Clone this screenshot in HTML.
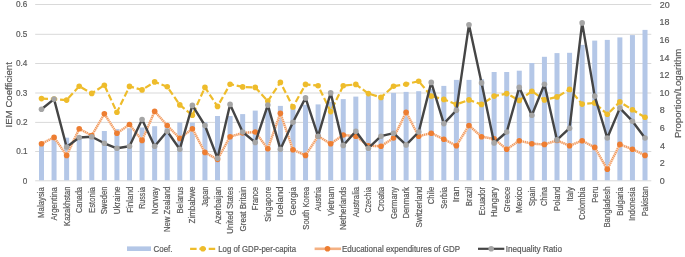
<!DOCTYPE html><html><head><meta charset="utf-8"><style>html,body{margin:0;padding:0;background:#fff;width:685px;height:257px;overflow:hidden}svg{display:block}text{font-family:"Liberation Sans",sans-serif;fill:#595959;stroke:#595959;stroke-width:0.2px}</style></head><body>
<svg width="685" height="257" viewBox="0 0 685 257">
<rect width="685" height="257" fill="#fff"/>
<line x1="35.2" x2="651.3" y1="4.50" y2="4.50" stroke="#D9D9D9" stroke-width="1"/>
<line x1="35.2" x2="651.3" y1="34.30" y2="34.30" stroke="#D9D9D9" stroke-width="1"/>
<line x1="35.2" x2="651.3" y1="63.50" y2="63.50" stroke="#D9D9D9" stroke-width="1"/>
<line x1="35.2" x2="651.3" y1="93.00" y2="93.00" stroke="#D9D9D9" stroke-width="1"/>
<line x1="35.2" x2="651.3" y1="122.40" y2="122.40" stroke="#D9D9D9" stroke-width="1"/>
<line x1="35.2" x2="651.3" y1="151.50" y2="151.50" stroke="#D9D9D9" stroke-width="1"/>
<line x1="35.2" x2="651.3" y1="180.80" y2="180.80" stroke="#D9D9D9" stroke-width="1"/>
<rect x="38.99" y="143.70" width="5.0" height="36.60" fill="#B4C7E7"/>
<rect x="51.56" y="138.50" width="5.0" height="41.80" fill="#B4C7E7"/>
<rect x="64.13" y="137.70" width="5.0" height="42.60" fill="#B4C7E7"/>
<rect x="76.71" y="136.80" width="5.0" height="43.50" fill="#B4C7E7"/>
<rect x="89.28" y="136.00" width="5.0" height="44.30" fill="#B4C7E7"/>
<rect x="101.85" y="131.00" width="5.0" height="49.30" fill="#B4C7E7"/>
<rect x="114.43" y="129.10" width="5.0" height="51.20" fill="#B4C7E7"/>
<rect x="127.00" y="128.20" width="5.0" height="52.10" fill="#B4C7E7"/>
<rect x="139.57" y="127.50" width="5.0" height="52.80" fill="#B4C7E7"/>
<rect x="152.15" y="126.20" width="5.0" height="54.10" fill="#B4C7E7"/>
<rect x="164.72" y="125.50" width="5.0" height="54.80" fill="#B4C7E7"/>
<rect x="177.29" y="122.50" width="5.0" height="57.80" fill="#B4C7E7"/>
<rect x="189.87" y="122.50" width="5.0" height="57.80" fill="#B4C7E7"/>
<rect x="202.44" y="122.30" width="5.0" height="58.00" fill="#B4C7E7"/>
<rect x="215.02" y="116.00" width="5.0" height="64.30" fill="#B4C7E7"/>
<rect x="227.59" y="116.00" width="5.0" height="64.30" fill="#B4C7E7"/>
<rect x="240.16" y="114.10" width="5.0" height="66.20" fill="#B4C7E7"/>
<rect x="252.74" y="110.60" width="5.0" height="69.70" fill="#B4C7E7"/>
<rect x="265.31" y="108.00" width="5.0" height="72.30" fill="#B4C7E7"/>
<rect x="277.88" y="105.90" width="5.0" height="74.40" fill="#B4C7E7"/>
<rect x="290.46" y="105.50" width="5.0" height="74.80" fill="#B4C7E7"/>
<rect x="303.03" y="104.80" width="5.0" height="75.50" fill="#B4C7E7"/>
<rect x="315.60" y="104.40" width="5.0" height="75.90" fill="#B4C7E7"/>
<rect x="328.18" y="101.90" width="5.0" height="78.40" fill="#B4C7E7"/>
<rect x="340.75" y="99.10" width="5.0" height="81.20" fill="#B4C7E7"/>
<rect x="353.32" y="96.60" width="5.0" height="83.70" fill="#B4C7E7"/>
<rect x="365.90" y="95.50" width="5.0" height="84.80" fill="#B4C7E7"/>
<rect x="378.47" y="95.00" width="5.0" height="85.30" fill="#B4C7E7"/>
<rect x="391.04" y="92.90" width="5.0" height="87.40" fill="#B4C7E7"/>
<rect x="403.62" y="91.90" width="5.0" height="88.40" fill="#B4C7E7"/>
<rect x="416.19" y="91.20" width="5.0" height="89.10" fill="#B4C7E7"/>
<rect x="428.76" y="89.00" width="5.0" height="91.30" fill="#B4C7E7"/>
<rect x="441.34" y="85.90" width="5.0" height="94.40" fill="#B4C7E7"/>
<rect x="453.91" y="79.90" width="5.0" height="100.40" fill="#B4C7E7"/>
<rect x="466.48" y="79.90" width="5.0" height="100.40" fill="#B4C7E7"/>
<rect x="479.06" y="79.20" width="5.0" height="101.10" fill="#B4C7E7"/>
<rect x="491.63" y="72.00" width="5.0" height="108.30" fill="#B4C7E7"/>
<rect x="504.21" y="72.00" width="5.0" height="108.30" fill="#B4C7E7"/>
<rect x="516.78" y="70.70" width="5.0" height="109.60" fill="#B4C7E7"/>
<rect x="529.35" y="63.00" width="5.0" height="117.30" fill="#B4C7E7"/>
<rect x="541.93" y="56.80" width="5.0" height="123.50" fill="#B4C7E7"/>
<rect x="554.50" y="53.10" width="5.0" height="127.20" fill="#B4C7E7"/>
<rect x="567.07" y="52.80" width="5.0" height="127.50" fill="#B4C7E7"/>
<rect x="579.65" y="44.90" width="5.0" height="135.40" fill="#B4C7E7"/>
<rect x="592.22" y="40.60" width="5.0" height="139.70" fill="#B4C7E7"/>
<rect x="604.79" y="39.90" width="5.0" height="140.40" fill="#B4C7E7"/>
<rect x="617.37" y="37.40" width="5.0" height="142.90" fill="#B4C7E7"/>
<rect x="629.94" y="35.10" width="5.0" height="145.20" fill="#B4C7E7"/>
<rect x="642.51" y="29.90" width="5.0" height="150.40" fill="#B4C7E7"/>
<polyline points="41.49,98.60 54.06,99.10 66.63,100.10 79.21,86.20 91.78,93.40 104.35,85.20 116.93,112.30 129.50,86.40 142.07,89.90 154.65,81.90 167.22,86.70 179.79,104.90 192.37,115.30 204.94,87.40 217.52,106.40 230.09,84.20 242.66,86.90 255.24,87.40 267.81,101.10 280.38,82.40 292.96,106.90 305.53,84.40 318.10,85.70 330.68,111.60 343.25,85.70 355.82,84.40 368.40,93.60 380.97,97.40 393.54,86.20 406.12,84.20 418.69,81.20 431.26,96.10 443.84,99.40 456.41,104.40 468.98,99.90 481.56,104.40 494.13,96.10 506.71,93.60 519.28,100.40 531.85,91.20 544.43,99.90 557.00,96.90 569.57,89.40 582.15,104.10 594.72,102.90 607.29,114.30 619.87,101.90 632.44,109.80 645.01,117.30" fill="none" stroke="#EEBC2B" stroke-width="2.2" stroke-dasharray="6.5 2.8" stroke-linejoin="round"/>
<circle cx="41.49" cy="98.60" r="2.8" fill="#EEBC2B"/>
<circle cx="54.06" cy="99.10" r="2.8" fill="#EEBC2B"/>
<circle cx="66.63" cy="100.10" r="2.8" fill="#EEBC2B"/>
<circle cx="79.21" cy="86.20" r="2.8" fill="#EEBC2B"/>
<circle cx="91.78" cy="93.40" r="2.8" fill="#EEBC2B"/>
<circle cx="104.35" cy="85.20" r="2.8" fill="#EEBC2B"/>
<circle cx="116.93" cy="112.30" r="2.8" fill="#EEBC2B"/>
<circle cx="129.50" cy="86.40" r="2.8" fill="#EEBC2B"/>
<circle cx="142.07" cy="89.90" r="2.8" fill="#EEBC2B"/>
<circle cx="154.65" cy="81.90" r="2.8" fill="#EEBC2B"/>
<circle cx="167.22" cy="86.70" r="2.8" fill="#EEBC2B"/>
<circle cx="179.79" cy="104.90" r="2.8" fill="#EEBC2B"/>
<circle cx="192.37" cy="115.30" r="2.8" fill="#EEBC2B"/>
<circle cx="204.94" cy="87.40" r="2.8" fill="#EEBC2B"/>
<circle cx="217.52" cy="106.40" r="2.8" fill="#EEBC2B"/>
<circle cx="230.09" cy="84.20" r="2.8" fill="#EEBC2B"/>
<circle cx="242.66" cy="86.90" r="2.8" fill="#EEBC2B"/>
<circle cx="255.24" cy="87.40" r="2.8" fill="#EEBC2B"/>
<circle cx="267.81" cy="101.10" r="2.8" fill="#EEBC2B"/>
<circle cx="280.38" cy="82.40" r="2.8" fill="#EEBC2B"/>
<circle cx="292.96" cy="106.90" r="2.8" fill="#EEBC2B"/>
<circle cx="305.53" cy="84.40" r="2.8" fill="#EEBC2B"/>
<circle cx="318.10" cy="85.70" r="2.8" fill="#EEBC2B"/>
<circle cx="330.68" cy="111.60" r="2.8" fill="#EEBC2B"/>
<circle cx="343.25" cy="85.70" r="2.8" fill="#EEBC2B"/>
<circle cx="355.82" cy="84.40" r="2.8" fill="#EEBC2B"/>
<circle cx="368.40" cy="93.60" r="2.8" fill="#EEBC2B"/>
<circle cx="380.97" cy="97.40" r="2.8" fill="#EEBC2B"/>
<circle cx="393.54" cy="86.20" r="2.8" fill="#EEBC2B"/>
<circle cx="406.12" cy="84.20" r="2.8" fill="#EEBC2B"/>
<circle cx="418.69" cy="81.20" r="2.8" fill="#EEBC2B"/>
<circle cx="431.26" cy="96.10" r="2.8" fill="#EEBC2B"/>
<circle cx="443.84" cy="99.40" r="2.8" fill="#EEBC2B"/>
<circle cx="456.41" cy="104.40" r="2.8" fill="#EEBC2B"/>
<circle cx="468.98" cy="99.90" r="2.8" fill="#EEBC2B"/>
<circle cx="481.56" cy="104.40" r="2.8" fill="#EEBC2B"/>
<circle cx="494.13" cy="96.10" r="2.8" fill="#EEBC2B"/>
<circle cx="506.71" cy="93.60" r="2.8" fill="#EEBC2B"/>
<circle cx="519.28" cy="100.40" r="2.8" fill="#EEBC2B"/>
<circle cx="531.85" cy="91.20" r="2.8" fill="#EEBC2B"/>
<circle cx="544.43" cy="99.90" r="2.8" fill="#EEBC2B"/>
<circle cx="557.00" cy="96.90" r="2.8" fill="#EEBC2B"/>
<circle cx="569.57" cy="89.40" r="2.8" fill="#EEBC2B"/>
<circle cx="582.15" cy="104.10" r="2.8" fill="#EEBC2B"/>
<circle cx="594.72" cy="102.90" r="2.8" fill="#EEBC2B"/>
<circle cx="607.29" cy="114.30" r="2.8" fill="#EEBC2B"/>
<circle cx="619.87" cy="101.90" r="2.8" fill="#EEBC2B"/>
<circle cx="632.44" cy="109.80" r="2.8" fill="#EEBC2B"/>
<circle cx="645.01" cy="117.30" r="2.8" fill="#EEBC2B"/>
<polyline points="41.49,143.70 54.06,137.40 66.63,155.40 79.21,128.80 91.78,135.50 104.35,113.80 116.93,133.30 129.50,124.50 142.07,140.40 154.65,111.30 167.22,125.50 179.79,138.40 192.37,128.70 204.94,152.40 217.52,159.50 230.09,136.70 242.66,133.00 255.24,132.00 267.81,148.70 280.38,113.30 292.96,149.70 305.53,155.40 318.10,136.20 330.68,143.70 343.25,135.00 355.82,136.20 368.40,145.70 380.97,146.20 393.54,138.00 406.12,112.30 418.69,136.20 431.26,133.20 443.84,139.20 456.41,145.70 468.98,125.50 481.56,136.70 494.13,138.90 506.71,149.20 519.28,140.70 531.85,143.70 544.43,144.40 557.00,140.50 569.57,145.70 582.15,140.70 594.72,147.40 607.29,169.30 619.87,144.40 632.44,149.20 645.01,155.40" fill="none" stroke="#FBDCC6" stroke-width="2.4" stroke-linejoin="round"/>
<polyline points="41.49,143.70 54.06,137.40 66.63,155.40 79.21,128.80 91.78,135.50 104.35,113.80 116.93,133.30 129.50,124.50 142.07,140.40 154.65,111.30 167.22,125.50 179.79,138.40 192.37,128.70 204.94,152.40 217.52,159.50 230.09,136.70 242.66,133.00 255.24,132.00 267.81,148.70 280.38,113.30 292.96,149.70 305.53,155.40 318.10,136.20 330.68,143.70 343.25,135.00 355.82,136.20 368.40,145.70 380.97,146.20 393.54,138.00 406.12,112.30 418.69,136.20 431.26,133.20 443.84,139.20 456.41,145.70 468.98,125.50 481.56,136.70 494.13,138.90 506.71,149.20 519.28,140.70 531.85,143.70 544.43,144.40 557.00,140.50 569.57,145.70 582.15,140.70 594.72,147.40 607.29,169.30 619.87,144.40 632.44,149.20 645.01,155.40" fill="none" stroke="#ED7D31" stroke-width="2.4" stroke-dasharray="1 1" stroke-linejoin="round" opacity="0.75"/>
<circle cx="41.49" cy="143.70" r="2.8" fill="#ED7D31"/>
<circle cx="54.06" cy="137.40" r="2.8" fill="#ED7D31"/>
<circle cx="66.63" cy="155.40" r="2.8" fill="#ED7D31"/>
<circle cx="79.21" cy="128.80" r="2.8" fill="#ED7D31"/>
<circle cx="91.78" cy="135.50" r="2.8" fill="#ED7D31"/>
<circle cx="104.35" cy="113.80" r="2.8" fill="#ED7D31"/>
<circle cx="116.93" cy="133.30" r="2.8" fill="#ED7D31"/>
<circle cx="129.50" cy="124.50" r="2.8" fill="#ED7D31"/>
<circle cx="142.07" cy="140.40" r="2.8" fill="#ED7D31"/>
<circle cx="154.65" cy="111.30" r="2.8" fill="#ED7D31"/>
<circle cx="167.22" cy="125.50" r="2.8" fill="#ED7D31"/>
<circle cx="179.79" cy="138.40" r="2.8" fill="#ED7D31"/>
<circle cx="192.37" cy="128.70" r="2.8" fill="#ED7D31"/>
<circle cx="204.94" cy="152.40" r="2.8" fill="#ED7D31"/>
<circle cx="217.52" cy="159.50" r="2.8" fill="#ED7D31"/>
<circle cx="230.09" cy="136.70" r="2.8" fill="#ED7D31"/>
<circle cx="242.66" cy="133.00" r="2.8" fill="#ED7D31"/>
<circle cx="255.24" cy="132.00" r="2.8" fill="#ED7D31"/>
<circle cx="267.81" cy="148.70" r="2.8" fill="#ED7D31"/>
<circle cx="280.38" cy="113.30" r="2.8" fill="#ED7D31"/>
<circle cx="292.96" cy="149.70" r="2.8" fill="#ED7D31"/>
<circle cx="305.53" cy="155.40" r="2.8" fill="#ED7D31"/>
<circle cx="318.10" cy="136.20" r="2.8" fill="#ED7D31"/>
<circle cx="330.68" cy="143.70" r="2.8" fill="#ED7D31"/>
<circle cx="343.25" cy="135.00" r="2.8" fill="#ED7D31"/>
<circle cx="355.82" cy="136.20" r="2.8" fill="#ED7D31"/>
<circle cx="368.40" cy="145.70" r="2.8" fill="#ED7D31"/>
<circle cx="380.97" cy="146.20" r="2.8" fill="#ED7D31"/>
<circle cx="393.54" cy="138.00" r="2.8" fill="#ED7D31"/>
<circle cx="406.12" cy="112.30" r="2.8" fill="#ED7D31"/>
<circle cx="418.69" cy="136.20" r="2.8" fill="#ED7D31"/>
<circle cx="431.26" cy="133.20" r="2.8" fill="#ED7D31"/>
<circle cx="443.84" cy="139.20" r="2.8" fill="#ED7D31"/>
<circle cx="456.41" cy="145.70" r="2.8" fill="#ED7D31"/>
<circle cx="468.98" cy="125.50" r="2.8" fill="#ED7D31"/>
<circle cx="481.56" cy="136.70" r="2.8" fill="#ED7D31"/>
<circle cx="494.13" cy="138.90" r="2.8" fill="#ED7D31"/>
<circle cx="506.71" cy="149.20" r="2.8" fill="#ED7D31"/>
<circle cx="519.28" cy="140.70" r="2.8" fill="#ED7D31"/>
<circle cx="531.85" cy="143.70" r="2.8" fill="#ED7D31"/>
<circle cx="544.43" cy="144.40" r="2.8" fill="#ED7D31"/>
<circle cx="557.00" cy="140.50" r="2.8" fill="#ED7D31"/>
<circle cx="569.57" cy="145.70" r="2.8" fill="#ED7D31"/>
<circle cx="582.15" cy="140.70" r="2.8" fill="#ED7D31"/>
<circle cx="594.72" cy="147.40" r="2.8" fill="#ED7D31"/>
<circle cx="607.29" cy="169.30" r="2.8" fill="#ED7D31"/>
<circle cx="619.87" cy="144.40" r="2.8" fill="#ED7D31"/>
<circle cx="632.44" cy="149.20" r="2.8" fill="#ED7D31"/>
<circle cx="645.01" cy="155.40" r="2.8" fill="#ED7D31"/>
<polyline points="41.49,109.30 54.06,99.10 66.63,147.00 79.21,137.50 91.78,136.80 104.35,143.30 116.93,148.30 129.50,146.20 142.07,119.50 154.65,146.20 167.22,131.20 179.79,149.20 192.37,105.40 204.94,125.50 217.52,158.30 230.09,104.40 242.66,132.00 255.24,142.40 267.81,105.10 280.38,149.20 292.96,122.20 305.53,97.90 318.10,136.20 330.68,92.90 343.25,145.40 355.82,131.20 368.40,148.20 380.97,136.20 393.54,133.20 406.12,144.90 418.69,132.00 431.26,82.40 443.84,123.60 456.41,110.30 468.98,24.70 481.56,82.90 494.13,142.90 506.71,132.00 519.28,87.40 531.85,115.30 544.43,84.20 557.00,139.90 569.57,128.20 582.15,22.90 594.72,96.10 607.29,138.00 619.87,108.10 632.44,121.20 645.01,138.00" fill="none" stroke="#454545" stroke-width="2.4" stroke-linejoin="round"/>
<circle cx="41.49" cy="109.30" r="2.8" fill="#A5A5A5"/>
<circle cx="54.06" cy="99.10" r="2.8" fill="#A5A5A5"/>
<circle cx="66.63" cy="147.00" r="2.8" fill="#A5A5A5"/>
<circle cx="79.21" cy="137.50" r="2.8" fill="#A5A5A5"/>
<circle cx="91.78" cy="136.80" r="2.8" fill="#A5A5A5"/>
<circle cx="104.35" cy="143.30" r="2.8" fill="#A5A5A5"/>
<circle cx="116.93" cy="148.30" r="2.8" fill="#A5A5A5"/>
<circle cx="129.50" cy="146.20" r="2.8" fill="#A5A5A5"/>
<circle cx="142.07" cy="119.50" r="2.8" fill="#A5A5A5"/>
<circle cx="154.65" cy="146.20" r="2.8" fill="#A5A5A5"/>
<circle cx="167.22" cy="131.20" r="2.8" fill="#A5A5A5"/>
<circle cx="179.79" cy="149.20" r="2.8" fill="#A5A5A5"/>
<circle cx="192.37" cy="105.40" r="2.8" fill="#A5A5A5"/>
<circle cx="204.94" cy="125.50" r="2.8" fill="#A5A5A5"/>
<circle cx="217.52" cy="158.30" r="2.8" fill="#A5A5A5"/>
<circle cx="230.09" cy="104.40" r="2.8" fill="#A5A5A5"/>
<circle cx="242.66" cy="132.00" r="2.8" fill="#A5A5A5"/>
<circle cx="255.24" cy="142.40" r="2.8" fill="#A5A5A5"/>
<circle cx="267.81" cy="105.10" r="2.8" fill="#A5A5A5"/>
<circle cx="280.38" cy="149.20" r="2.8" fill="#A5A5A5"/>
<circle cx="292.96" cy="122.20" r="2.8" fill="#A5A5A5"/>
<circle cx="305.53" cy="97.90" r="2.8" fill="#A5A5A5"/>
<circle cx="318.10" cy="136.20" r="2.8" fill="#A5A5A5"/>
<circle cx="330.68" cy="92.90" r="2.8" fill="#A5A5A5"/>
<circle cx="343.25" cy="145.40" r="2.8" fill="#A5A5A5"/>
<circle cx="355.82" cy="131.20" r="2.8" fill="#A5A5A5"/>
<circle cx="368.40" cy="148.20" r="2.8" fill="#A5A5A5"/>
<circle cx="380.97" cy="136.20" r="2.8" fill="#A5A5A5"/>
<circle cx="393.54" cy="133.20" r="2.8" fill="#A5A5A5"/>
<circle cx="406.12" cy="144.90" r="2.8" fill="#A5A5A5"/>
<circle cx="418.69" cy="132.00" r="2.8" fill="#A5A5A5"/>
<circle cx="431.26" cy="82.40" r="2.8" fill="#A5A5A5"/>
<circle cx="443.84" cy="123.60" r="2.8" fill="#A5A5A5"/>
<circle cx="456.41" cy="110.30" r="2.8" fill="#A5A5A5"/>
<circle cx="468.98" cy="24.70" r="2.8" fill="#A5A5A5"/>
<circle cx="481.56" cy="82.90" r="2.8" fill="#A5A5A5"/>
<circle cx="494.13" cy="142.90" r="2.8" fill="#A5A5A5"/>
<circle cx="506.71" cy="132.00" r="2.8" fill="#A5A5A5"/>
<circle cx="519.28" cy="87.40" r="2.8" fill="#A5A5A5"/>
<circle cx="531.85" cy="115.30" r="2.8" fill="#A5A5A5"/>
<circle cx="544.43" cy="84.20" r="2.8" fill="#A5A5A5"/>
<circle cx="557.00" cy="139.90" r="2.8" fill="#A5A5A5"/>
<circle cx="569.57" cy="128.20" r="2.8" fill="#A5A5A5"/>
<circle cx="582.15" cy="22.90" r="2.8" fill="#A5A5A5"/>
<circle cx="594.72" cy="96.10" r="2.8" fill="#A5A5A5"/>
<circle cx="607.29" cy="138.00" r="2.8" fill="#A5A5A5"/>
<circle cx="619.87" cy="108.10" r="2.8" fill="#A5A5A5"/>
<circle cx="632.44" cy="121.20" r="2.8" fill="#A5A5A5"/>
<circle cx="645.01" cy="138.00" r="2.8" fill="#A5A5A5"/>
<g style="opacity:0.999">
<text transform="translate(16.05,7.30) scale(0.9091,1)" font-size="9.0">0.6</text>
<text transform="translate(16.05,37.10) scale(0.9091,1)" font-size="9.0">0.5</text>
<text transform="translate(15.97,66.30) scale(0.9091,1)" font-size="9.0">0.4</text>
<text transform="translate(16.05,95.80) scale(0.9091,1)" font-size="9.0">0.3</text>
<text transform="translate(16.14,125.20) scale(0.9091,1)" font-size="9.0">0.2</text>
<text transform="translate(16.14,154.30) scale(0.9091,1)" font-size="9.0">0.1</text>
<text transform="translate(22.85,183.60) scale(0.9091,1)" font-size="9.0">0</text>
<text transform="translate(659.75,7.70) scale(0.9913,1)" font-size="9.0">20</text>
<text transform="translate(659.49,25.30) scale(0.9913,1)" font-size="9.0">18</text>
<text transform="translate(659.49,42.90) scale(0.9913,1)" font-size="9.0">16</text>
<text transform="translate(659.49,60.50) scale(0.9913,1)" font-size="9.0">14</text>
<text transform="translate(659.49,78.10) scale(0.9913,1)" font-size="9.0">12</text>
<text transform="translate(659.49,95.70) scale(0.9913,1)" font-size="9.0">10</text>
<text transform="translate(659.84,113.30) scale(0.9913,1)" font-size="9.0">8</text>
<text transform="translate(659.75,130.90) scale(0.9913,1)" font-size="9.0">6</text>
<text transform="translate(660.02,148.50) scale(0.9913,1)" font-size="9.0">4</text>
<text transform="translate(659.75,166.10) scale(0.9913,1)" font-size="9.0">2</text>
<text transform="translate(659.84,183.70) scale(0.9913,1)" font-size="9.0">0</text>
<text transform="translate(12.00,127.47) rotate(-90) scale(1.0761,1)" font-size="9.0">IEM Coefficient</text>
<text transform="translate(681.20,138.07) rotate(-90) scale(1.0640,1)" font-size="9.0">Proportion/Logarithm</text>
<text transform="translate(44.49,217.93) rotate(-90) scale(0.8699,1)" font-size="9.0">Malaysia</text>
<text transform="translate(57.06,220.60) rotate(-90) scale(0.8723,1)" font-size="9.0">Argentina</text>
<text transform="translate(69.63,225.90) rotate(-90) scale(0.8377,1)" font-size="9.0">Kazakhstan</text>
<text transform="translate(82.21,213.07) rotate(-90) scale(0.8277,1)" font-size="9.0">Canada</text>
<text transform="translate(94.78,212.92) rotate(-90) scale(0.8623,1)" font-size="9.0">Estonia</text>
<text transform="translate(107.35,214.28) rotate(-90) scale(0.8540,1)" font-size="9.0">Sweden</text>
<text transform="translate(119.93,214.14) rotate(-90) scale(0.8869,1)" font-size="9.0">Ukraine</text>
<text transform="translate(132.50,212.84) rotate(-90) scale(0.8946,1)" font-size="9.0">Finland</text>
<text transform="translate(145.07,208.87) rotate(-90) scale(0.7942,1)" font-size="9.0">Russia</text>
<text transform="translate(157.65,214.14) rotate(-90) scale(0.8896,1)" font-size="9.0">Norway</text>
<text transform="translate(170.22,232.12) rotate(-90) scale(0.8599,1)" font-size="9.0">New Zealand</text>
<text transform="translate(182.79,213.43) rotate(-90) scale(0.8767,1)" font-size="9.0">Belarus</text>
<text transform="translate(195.37,223.44) rotate(-90) scale(0.8860,1)" font-size="9.0">Zimbabwe</text>
<text transform="translate(207.94,206.85) rotate(-90) scale(0.8291,1)" font-size="9.0">Japan</text>
<text transform="translate(220.52,224.30) rotate(-90) scale(0.8894,1)" font-size="9.0">Azerbaijan</text>
<text transform="translate(233.09,233.73) rotate(-90) scale(0.8696,1)" font-size="9.0">United States</text>
<text transform="translate(245.66,231.50) rotate(-90) scale(0.8909,1)" font-size="9.0">Great Britain</text>
<text transform="translate(258.24,210.20) rotate(-90) scale(0.8398,1)" font-size="9.0">France</text>
<text transform="translate(270.81,221.79) rotate(-90) scale(0.8570,1)" font-size="9.0">Singapore</text>
<text transform="translate(283.38,217.26) rotate(-90) scale(1.0641,1)" font-size="9.0">Iceland</text>
<text transform="translate(295.96,215.50) rotate(-90) scale(0.8895,1)" font-size="9.0">Georgia</text>
<text transform="translate(308.53,229.68) rotate(-90) scale(0.8530,1)" font-size="9.0">South Korea</text>
<text transform="translate(321.10,211.20) rotate(-90) scale(0.8646,1)" font-size="9.0">Austria</text>
<text transform="translate(333.68,215.78) rotate(-90) scale(0.8932,1)" font-size="9.0">Vietnam</text>
<text transform="translate(346.25,229.94) rotate(-90) scale(0.8902,1)" font-size="9.0">Netherlands</text>
<text transform="translate(358.82,217.30) rotate(-90) scale(0.8655,1)" font-size="9.0">Australia</text>
<text transform="translate(371.40,212.66) rotate(-90) scale(0.7896,1)" font-size="9.0">Czechia</text>
<text transform="translate(383.97,211.58) rotate(-90) scale(0.8482,1)" font-size="9.0">Croatia</text>
<text transform="translate(396.54,219.09) rotate(-90) scale(0.8675,1)" font-size="9.0">Germany</text>
<text transform="translate(409.12,218.62) rotate(-90) scale(0.8654,1)" font-size="9.0">Denmark</text>
<text transform="translate(421.69,227.40) rotate(-90) scale(0.8801,1)" font-size="9.0">Switzerland</text>
<text transform="translate(434.26,204.19) rotate(-90) scale(0.8563,1)" font-size="9.0">Chile</text>
<text transform="translate(446.84,208.68) rotate(-90) scale(0.8333,1)" font-size="9.0">Serbia</text>
<text transform="translate(459.41,202.33) rotate(-90) scale(1.0262,1)" font-size="9.0">Iran</text>
<text transform="translate(471.98,206.23) rotate(-90) scale(0.8794,1)" font-size="9.0">Brazil</text>
<text transform="translate(484.56,215.21) rotate(-90) scale(0.8448,1)" font-size="9.0">Ecuador</text>
<text transform="translate(497.13,217.04) rotate(-90) scale(0.8829,1)" font-size="9.0">Hungary</text>
<text transform="translate(509.71,212.29) rotate(-90) scale(0.8700,1)" font-size="9.0">Greece</text>
<text transform="translate(522.28,212.96) rotate(-90) scale(0.9217,1)" font-size="9.0">Mexico</text>
<text transform="translate(534.85,205.98) rotate(-90) scale(0.8470,1)" font-size="9.0">Spain</text>
<text transform="translate(547.43,205.96) rotate(-90) scale(0.8073,1)" font-size="9.0">China</text>
<text transform="translate(560.00,211.13) rotate(-90) scale(0.8792,1)" font-size="9.0">Poland</text>
<text transform="translate(572.57,201.83) rotate(-90) scale(0.9004,1)" font-size="9.0">Italy</text>
<text transform="translate(585.15,219.99) rotate(-90) scale(0.8686,1)" font-size="9.0">Colombia</text>
<text transform="translate(597.72,202.82) rotate(-90) scale(0.8617,1)" font-size="9.0">Peru</text>
<text transform="translate(610.29,227.62) rotate(-90) scale(0.8647,1)" font-size="9.0">Bangladesh</text>
<text transform="translate(622.87,215.73) rotate(-90) scale(0.8697,1)" font-size="9.0">Bulgaria</text>
<text transform="translate(635.44,220.90) rotate(-90) scale(0.8680,1)" font-size="9.0">Indonesia</text>
<text transform="translate(648.01,216.32) rotate(-90) scale(0.8642,1)" font-size="9.0">Pakistan</text>
<rect x="127" y="246.4" width="24" height="4.6" fill="#B4C7E7"/>
<text transform="translate(153.50,251.80) scale(0.8840,1)" font-size="9.0">Coef.</text>
<line x1="190.1" x2="215.8" y1="248.8" y2="248.8" stroke="#EEBC2B" stroke-width="2.2" stroke-dasharray="6.5 2.8"/>
<circle cx="202.9" cy="248.8" r="2.8" fill="#EEBC2B"/>
<text transform="translate(218.28,251.80) scale(0.8647,1)" font-size="9.0">Log of GDP-per-capita</text>
<line x1="314.6" x2="341.1" y1="248.8" y2="248.8" stroke="#F4B183" stroke-width="2.6"/>
<circle cx="327.5" cy="248.8" r="2.8" fill="#ED7D31"/>
<text transform="translate(341.96,251.80) scale(0.8889,1)" font-size="9.0">Educational expenditures of GDP</text>
<line x1="478" x2="504.3" y1="248.8" y2="248.8" stroke="#454545" stroke-width="2.2"/>
<circle cx="491.2" cy="248.8" r="2.8" fill="#A5A5A5"/>
<text transform="translate(505.77,251.80) scale(0.9073,1)" font-size="9.0">Inequality Ratio</text>
</g></svg></body></html>
